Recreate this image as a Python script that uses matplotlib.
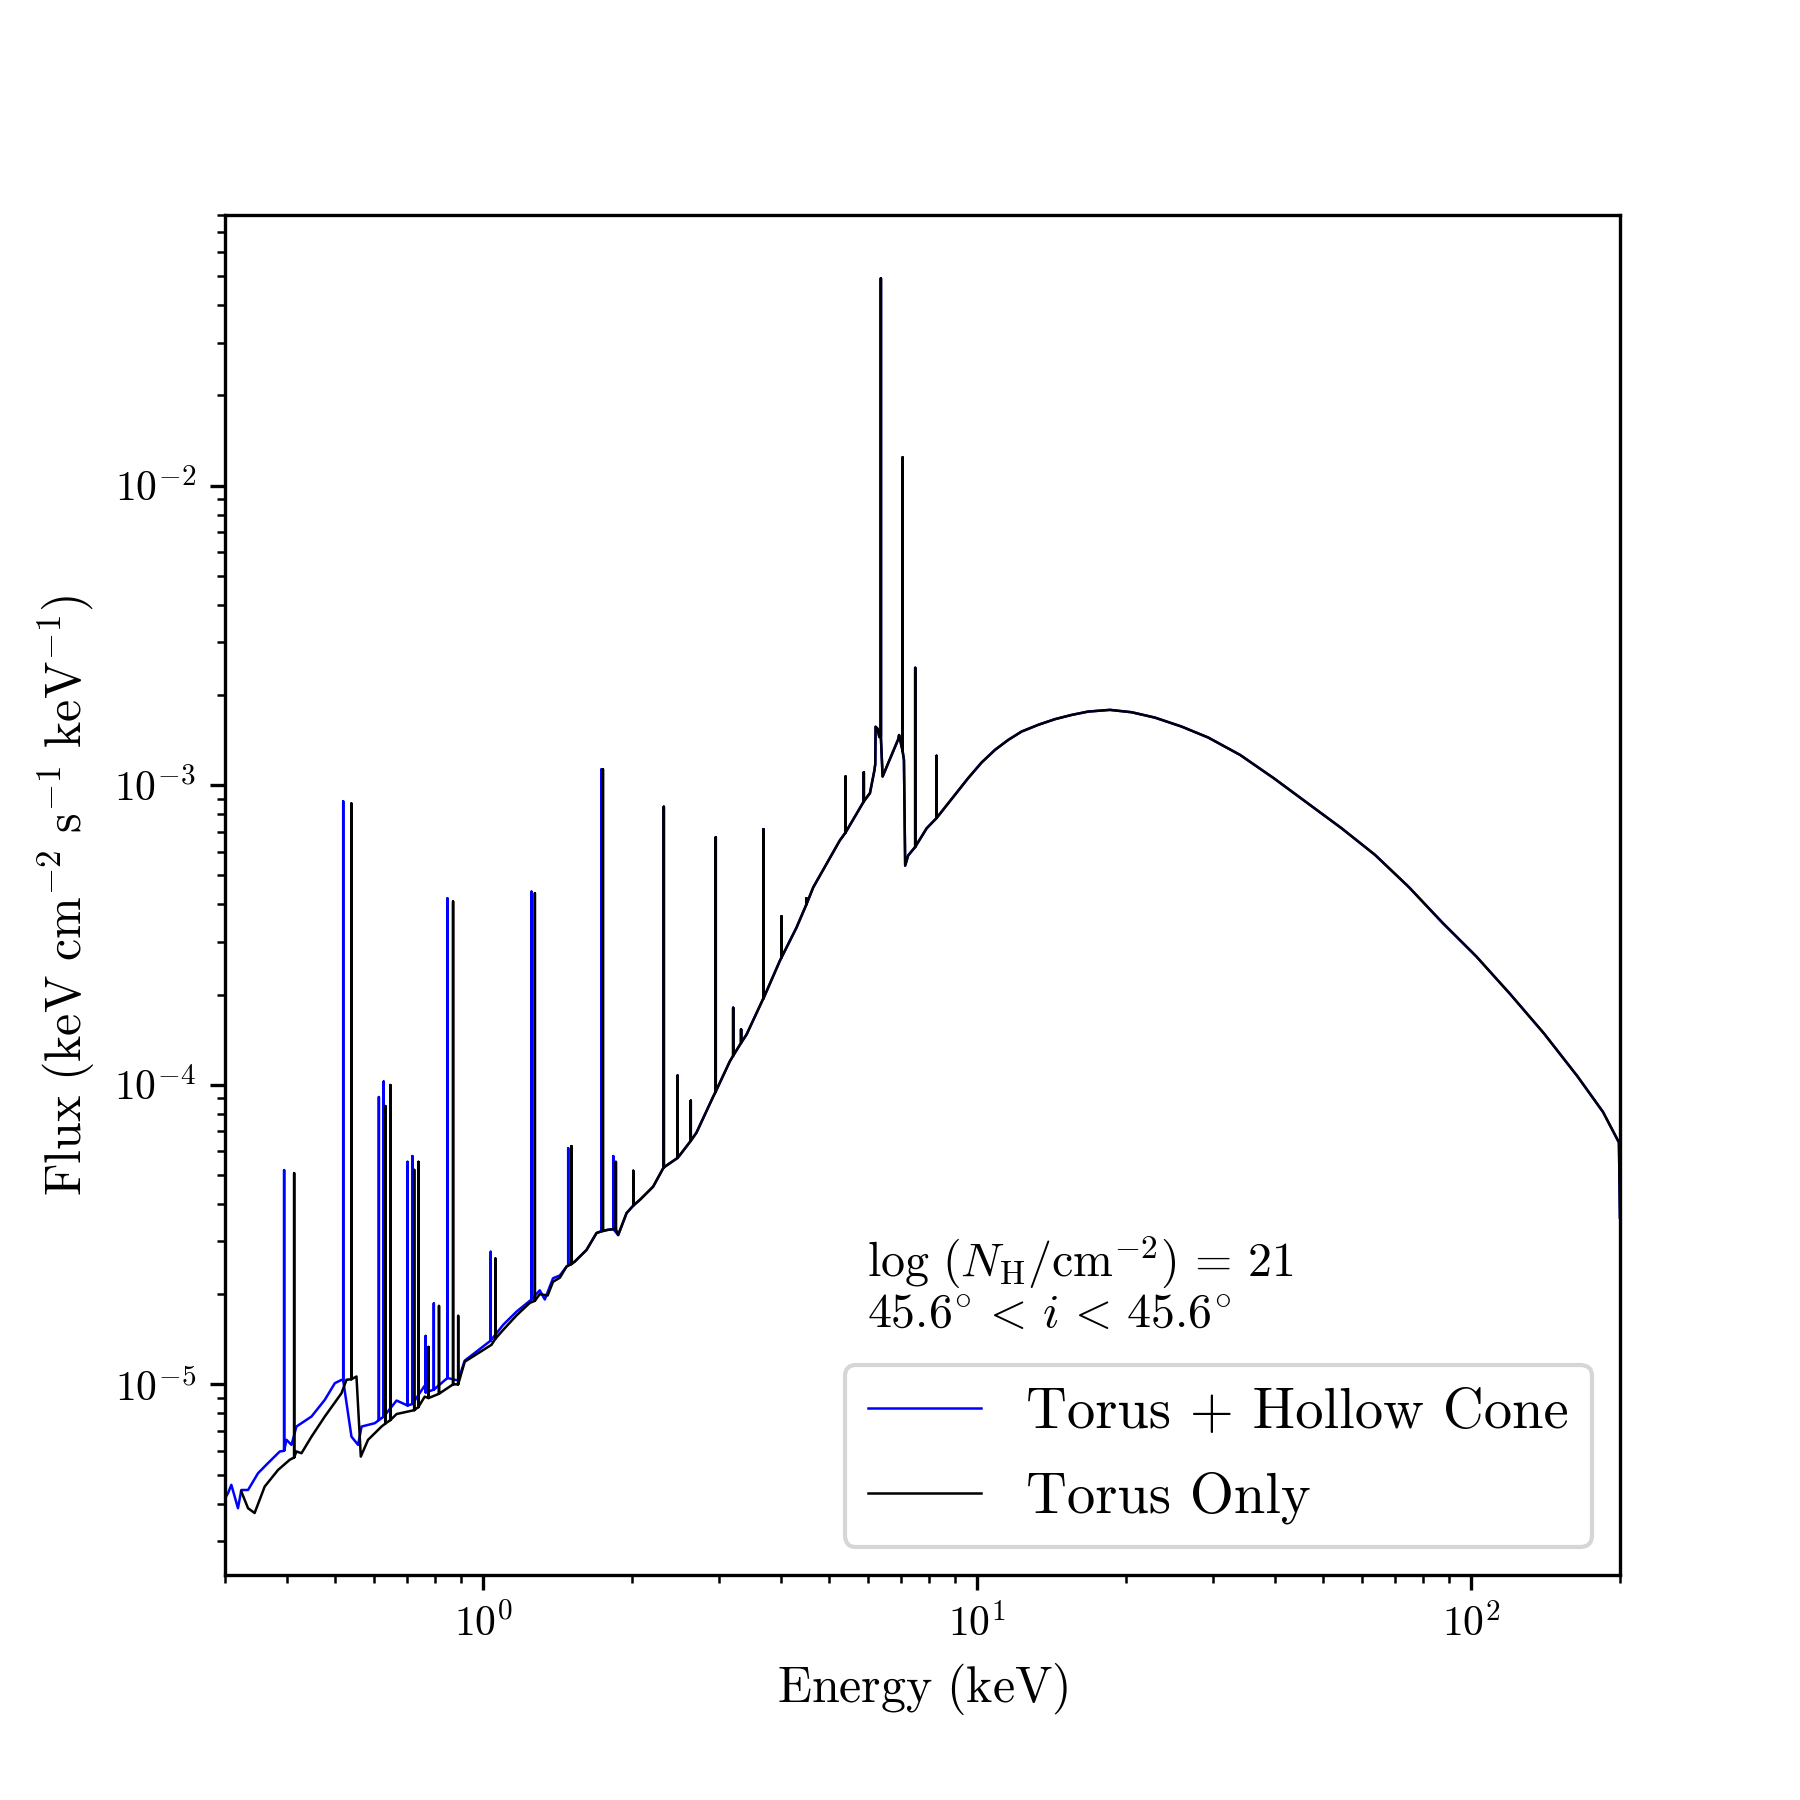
import numpy as np
import matplotlib
matplotlib.use('Agg')
import matplotlib.pyplot as plt
from matplotlib.ticker import FuncFormatter, NullFormatter

plt.rcParams['mathtext.fontset'] = 'cm'
plt.rcParams['font.family'] = ['cmr10', 'DejaVu Serif']
plt.rcParams['axes.formatter.use_mathtext'] = True

# ---------------- data ----------------
# continuum below ~1.45 keV, Torus + Hollow Cone
blue_low_E = [0.3010, 0.3042, 0.3090, 0.3187, 0.3237, 0.3340, 0.3499, 0.3666, 0.3873,
              0.3995, 0.4090, 0.4185, 0.4490, 0.4777, 0.5006, 0.5163, 0.5409, 0.5579,
              0.5670, 0.6032, 0.6675, 0.7610, 0.8894, 0.9170, 1.0387, 1.097, 1.168,
              1.242, 1.301, 1.332, 1.384, 1.429]
blue_low_F = [4.20e-6, 4.33e-6, 4.62e-6, 3.86e-6, 4.44e-6, 4.44e-6, 5.05e-6, 5.46e-6, 5.97e-6,
              6.53e-6, 6.28e-6, 7.23e-6, 7.81e-6, 8.88e-6, 1.009e-5, 1.035e-5, 6.69e-6, 6.28e-6,
              7.23e-6, 7.42e-6, 8.83e-6, 9.90e-6, 1.03e-5, 1.20e-5, 1.41e-5, 1.58e-5, 1.75e-5,
              1.90e-5, 2.06e-5, 1.92e-5, 2.26e-5, 2.31e-5]

# continuum below ~1.45 keV, Torus Only
black_low_E = [0.3237, 0.3340, 0.3444, 0.3610, 0.3842, 0.4056, 0.4185, 0.4285, 0.4490,
               0.4777, 0.5163, 0.5285, 0.5537, 0.5650, 0.5844, 0.6223, 0.6675, 0.7610,
               0.8894, 0.9170, 1.0387, 1.097, 1.168, 1.242, 1.301, 1.350, 1.384, 1.429]
black_low_F = [4.39e-6, 3.86e-6, 3.72e-6, 4.56e-6, 5.18e-6, 5.60e-6, 5.97e-6, 5.89e-6, 6.69e-6,
               7.81e-6, 9.34e-6, 1.036e-5, 1.062e-5, 5.74e-6, 6.53e-6, 7.23e-6, 7.96e-6, 9.10e-6,
               1.00e-5, 1.19e-5, 1.355e-5, 1.52e-5, 1.70e-5, 1.87e-5, 2.00e-5, 1.98e-5, 2.20e-5, 2.27e-5]

# continuum common to both spectra above ~1.45 keV
shared_E = [1.474, 1.532, 1.618, 1.695, 1.789, 1.875, 1.950, 2.075, 2.207, 2.3122, 2.4991,
            2.7008, 2.9174, 3.1551, 3.4102, 3.6857, 3.9829, 4.3063, 4.6547, 5.2686, 6.0630,
            6.190, 6.215, 6.225, 6.285, 6.333, 6.4318, 6.9166, 6.9453, 7.1040, 7.145, 7.2458,
            7.8976, 9.01, 9.58, 10.20, 10.86, 11.55, 12.29, 13.28, 14.36, 15.52, 16.77, 18.56,
            20.53, 22.89, 25.92, 29.35, 34.04, 39.83, 46.63, 54.58, 63.87, 74.75, 87.49, 102.4,
            119.8, 140.3, 164.1, 184.8, 199.0, 200.0]
shared_F = [2.473e-5, 2.57e-5, 2.81e-5, 3.20e-5, 3.28e-5, 3.15e-5, 3.73e-5, 4.13e-5, 4.57e-5, 5.26e-5, 5.82e-5,
            6.92e-5, 9.10e-5, 1.197e-4, 1.470e-4, 1.936e-4, 2.59e-4, 3.35e-4, 4.56e-4, 6.54e-4, 9.41e-4,
            1.12e-3, 1.176e-3, 1.567e-3, 1.542e-3, 1.448e-3, 1.069e-3, 1.423e-3, 1.470e-3, 1.214e-3, 5.39e-4, 5.83e-4,
            7.18e-4, 9.28e-4, 1.055e-3, 1.19e-3, 1.312e-3, 1.416e-3, 1.510e-3, 1.590e-3, 1.661e-3, 1.716e-3, 1.761e-3, 1.784e-3,
            1.752e-3, 1.681e-3, 1.569e-3, 1.442e-3, 1.262e-3, 1.055e-3, 8.71e-4, 7.19e-4, 5.85e-4, 4.57e-4, 3.47e-4, 2.68e-4,
            2.01e-4, 1.484e-4, 1.066e-4, 8.11e-5, 6.42e-5, 3.60e-5]

# emission lines: energy, continuum level at the line, peak flux
blue_line_E = [0.3952, 0.5205, 0.6146, 0.6285, 0.7026, 0.7186, 0.7645, 0.7940, 0.8459,
               1.0354, 1.2518, 1.4855, 1.7349, 1.8325]
blue_line_base = [6.0e-6, 1.03e-5, 7.6e-6, 7.8e-6, 8.5e-6, 8.6e-6, 9.4e-6, 9.6e-6, 1.05e-5,
                  1.40e-5, 1.92e-5, 2.50e-5, 3.25e-5, 3.30e-5]
blue_line_peak = [5.19e-5, 8.83e-4, 9.10e-5, 1.025e-4, 5.53e-5, 5.78e-5, 1.451e-5, 1.862e-5, 4.19e-4,
                  2.77e-5, 4.41e-4, 6.14e-5, 1.13e-3, 5.78e-5]

black_line_E = [0.4141, 0.5407, 0.6336, 0.6486, 0.7246, 0.7391, 0.7746, 0.8134, 0.8686,
                0.8895, 1.0581, 1.2717, 1.5083, 1.7466, 1.8554]
black_line_base = [5.7e-6, 1.04e-5, 7.4e-6, 7.6e-6, 8.2e-6, 8.4e-6, 9.0e-6, 9.3e-6, 1.0e-5,
                   1.0e-5, 1.42e-5, 1.90e-5, 2.52e-5, 3.25e-5, 3.30e-5]
black_line_peak = [5.07e-5, 8.69e-4, 8.49e-5, 9.98e-5, 5.20e-5, 5.53e-5, 1.333e-5, 1.827e-5, 4.09e-4,
                   1.693e-5, 2.63e-5, 4.36e-4, 6.24e-5, 1.13e-3, 5.53e-5]

shared_line_E = [2.0116, 2.3197, 2.4733, 2.6303, 2.9553, 3.2049, 3.3253, 3.69, 4.0151, 4.5090,
                 5.4114, 5.8924, 6.38, 7.06, 7.4869, 8.2718]
shared_line_base = [3.95e-5, 5.3e-5, 5.7e-5, 6.5e-5, 9.5e-5, 1.25e-4, 1.38e-4, 1.94e-4, 2.66e-4, 4.0e-4,
                    6.95e-4, 8.83e-4, 1.45e-3, 1.30e-3, 6.22e-4, 7.77e-4]
shared_line_peak = [5.16e-5, 8.47e-4, 1.073e-4, 8.85e-5, 6.70e-4, 1.807e-4, 1.531e-4, 7.13e-4, 3.65e-4, 4.19e-4,
                    1.069e-3, 1.104e-3, 4.92e-2, 1.242e-2, 2.464e-3, 1.253e-3]

labels = ['Torus + Hollow Cone', 'Torus Only']
colors = ['blue', 'black']
annot_lines = [r'$\log\,(N_{\rm H}/{\rm cm}^{-2})\,=\,21$',
               r'$45.6^{\circ}\,<\,i\,<\,45.6^{\circ}$']


def build(cE, cF, lE, lB, lP):
    lE = np.asarray(lE)
    E = np.concatenate([np.asarray(cE), np.repeat(lE, 3)])
    F = np.concatenate([np.asarray(cF),
                        np.column_stack([lB, lP, lB]).ravel()])
    order = np.argsort(E, kind='stable')
    return E[order], F[order]


blue_E, blue_F = build(blue_low_E + shared_E, blue_low_F + shared_F,
                       blue_line_E + shared_line_E, blue_line_base + shared_line_base,
                       blue_line_peak + shared_line_peak)
black_E, black_F = build(black_low_E + shared_E, black_low_F + shared_F,
                         black_line_E + shared_line_E, black_line_base + shared_line_base,
                         black_line_peak + shared_line_peak)

# ---------------- plot ----------------
fig = plt.figure(figsize=(6, 6), dpi=300)
ax = fig.add_axes([0.125, 0.125, 0.775, 0.7557])

ax.plot(blue_E, blue_F, color=colors[0], lw=0.6, label=labels[0])
ax.plot(black_E, black_F, color=colors[1], lw=0.6, label=labels[1])

ax.set_xscale('log')
ax.set_yscale('log')
ax.set_xlim(0.3, 200)
ax.set_ylim(2.31e-6, 0.0802)

fmt = FuncFormatter(lambda v, p: r'$10^{%d}$' % int(round(np.log10(v))))
ax.xaxis.set_major_formatter(fmt)
ax.yaxis.set_major_formatter(fmt)
ax.xaxis.set_minor_formatter(NullFormatter())
ax.yaxis.set_minor_formatter(NullFormatter())
ax.tick_params(labelsize=10)

ax.set_xlabel(r'$\mathrm{Energy\ (keV)}$', fontsize=12)
ax.set_ylabel(r'$\mathrm{Flux\ (keV\ cm^{-2}\ s^{-1}\ keV^{-1})}$', fontsize=12)

ax.text(0.46, 0.251, '\n'.join(annot_lines), transform=ax.transAxes,
        fontsize=11.5, ha='left', va='top', linespacing=1.12)

ax.legend(loc='lower right', fontsize=13.6, labelspacing=0.58)

fig.savefig('out.png', dpi=300)
